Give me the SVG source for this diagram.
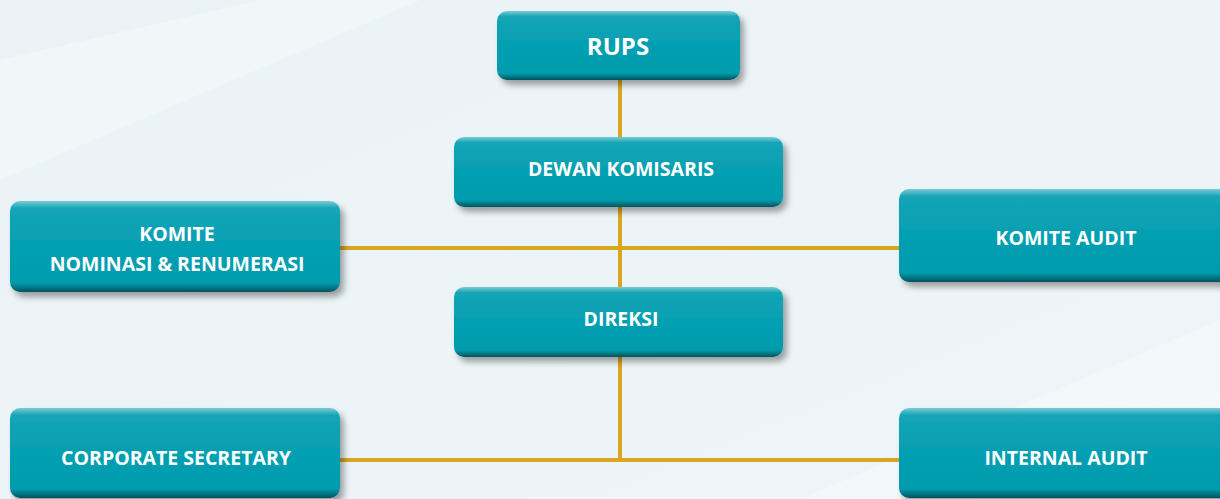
<svg xmlns="http://www.w3.org/2000/svg" width="1220" height="499" viewBox="0 0 1220 499">
<style>
.lbl{font-family:"Open Sans","Liberation Sans",sans-serif;font-weight:bold;fill:#ffffff;text-anchor:middle;dominant-baseline:central;font-size:19.5px}
.con{stroke:#d9a61e;stroke-width:4;fill:none}
</style>
<defs>
<linearGradient id="bg" x1="0" y1="0" x2="1" y2="1">
<stop offset="0" stop-color="#e9f3f6"/><stop offset="1" stop-color="#eef5f8"/>
</linearGradient>
<linearGradient id="box" x1="0" y1="0" x2="0" y2="1">
<stop offset="0" stop-color="#7ccbd5"/>
<stop offset="0.08" stop-color="#14a5b6"/>
<stop offset="0.5" stop-color="#049fb1"/>
<stop offset="0.9" stop-color="#049cae"/>
<stop offset="1" stop-color="#03535d"/>
</linearGradient>
<filter id="sh" x="-10%" y="-20%" width="125%" height="150%">
<feGaussianBlur in="SourceAlpha" stdDeviation="3"/>
<feOffset dx="4" dy="5" result="b"/>
<feComponentTransfer><feFuncA type="linear" slope="0.35"/></feComponentTransfer>
<feMerge><feMergeNode/><feMergeNode in="SourceGraphic"/></feMerge>
</filter>
</defs>
<rect width="1220" height="499" fill="url(#bg)"/>
<polygon points="0,60 260,0 420,0 0,180" fill="#ffffff" opacity="0.35"/>
<polygon points="800,499 1220,320 1220,420 980,499" fill="#ffffff" opacity="0.3"/>
<g id="connectors">
<line class="con" x1="620" y1="78" x2="620" y2="140"/>
<line class="con" x1="620" y1="205" x2="620" y2="290"/>
<line class="con" x1="338" y1="248" x2="902" y2="248"/>
<line class="con" x1="620" y1="355" x2="620" y2="460"/>
<line class="con" x1="338" y1="460" x2="902" y2="460"/>
</g>
<g id="rups"><rect x="497" y="11" width="243" height="69" rx="10" fill="url(#box)" filter="url(#sh)"/><text class="lbl" x="618" y="45" style="font-size:24px">RUPS</text></g>
<g id="dewan-komisaris"><rect x="454" y="137" width="329" height="70" rx="10" fill="url(#box)" filter="url(#sh)"/><text class="lbl" x="621" y="168">DEWAN KOMISARIS</text></g>
<g id="komite-nominasi"><rect x="10" y="201" width="330" height="91" rx="10" fill="url(#box)" filter="url(#sh)"/><text class="lbl" x="177" y="233">KOMITE</text><text class="lbl" x="177" y="263">NOMINASI &amp; RENUMERASI</text></g>
<g id="komite-audit"><rect x="899" y="189" width="332" height="93" rx="10" fill="url(#box)" filter="url(#sh)"/><text class="lbl" x="1066" y="237">KOMITE AUDIT</text></g>
<g id="direksi"><rect x="454" y="287" width="329" height="70" rx="10" fill="url(#box)" filter="url(#sh)"/><text class="lbl" x="621" y="318">DIREKSI</text></g>
<g id="corporate-secretary"><rect x="10" y="408" width="330" height="90" rx="10" fill="url(#box)" filter="url(#sh)"/><text class="lbl" x="176" y="457">CORPORATE SECRETARY</text></g>
<g id="internal-audit"><rect x="899" y="408" width="332" height="90" rx="10" fill="url(#box)" filter="url(#sh)"/><text class="lbl" x="1066" y="457">INTERNAL AUDIT</text></g>
</svg>
